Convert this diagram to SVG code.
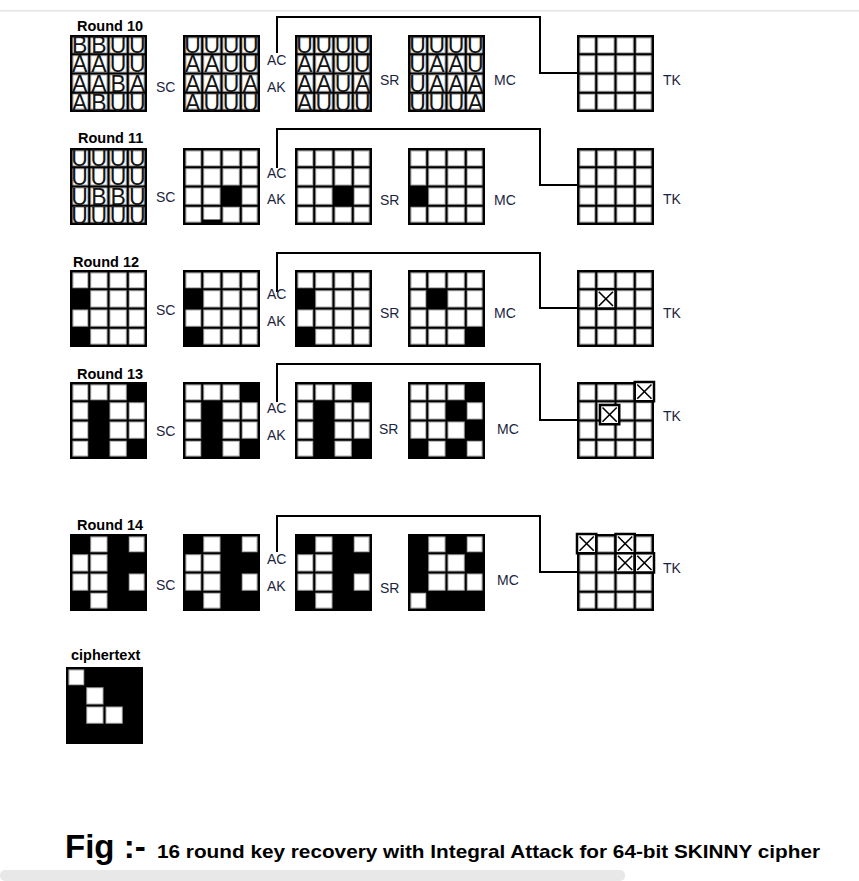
<svg xmlns="http://www.w3.org/2000/svg" xmlns:xlink="http://www.w3.org/1999/xlink" width="859" height="881" viewBox="0 0 859 881">
<style>
.lbl{font-family:"Liberation Sans",Arial,sans-serif;font-size:14px;fill:#1c2540}
.ttl{font-family:"Liberation Sans",Arial,sans-serif;font-size:14.5px;font-weight:bold;fill:#000}
.let{font-family:"Liberation Sans",Arial,sans-serif;font-size:23px;fill:#141414;text-anchor:middle}
.b{fill:#000}
.conn{fill:none;stroke:#000;stroke-width:2}
.cap{font-family:"Liberation Sans",Arial,sans-serif;font-weight:bold;fill:#000}
</style>
<defs>
<g id="grid">
<rect x="0" y="0" width="77" height="77" fill="#fff"/>
<path d="M19.25 0V77M38.5 0V77M57.75 0V77M0 19.25H77M0 38.5H77M0 57.75H77" stroke="#a8a8a8" stroke-width="4"/>
<rect x="3" y="3" width="71" height="71" fill="none" stroke="#a8a8a8" stroke-width="1"/>
<path d="M19.25 0V77M38.5 0V77M57.75 0V77M0 19.25H77M0 38.5H77M0 57.75H77" stroke="#000" stroke-width="2"/>
<rect x="1.25" y="1.25" width="74.5" height="74.5" fill="none" stroke="#000" stroke-width="2.5"/>
</g>
<g id="xc">
<rect x="0" y="0" width="19.25" height="19.25" fill="#fff" stroke="#000" stroke-width="2.5"/>
<path d="M2.5 2.5L16.75 16.75M16.75 2.5L2.5 16.75" stroke="#000" stroke-width="1.6"/>
</g>
</defs>
<rect width="859" height="881" fill="#fff"/>
<rect x="0" y="10" width="859" height="1.5" fill="#e3e3e3"/>
<rect x="0" y="870" width="625" height="11" rx="5" fill="#e8e8e8"/>

<g id="connectors">
<path class="conn" d="M277 53V17H540V73H577"/>
<path class="conn" d="M277 168V129H540V185H577"/>
<path class="conn" d="M277 292V253H540V308H577"/>
<path class="conn" d="M277 402V364H540V420H577"/>
<path class="conn" d="M277 552V516H540V572H577"/>
</g>

<!-- Round 10 -->
<g id="round10-labels">
<text class="ttl" x="77" y="31">Round 10</text>
<text class="lbl" x="156" y="92">SC</text>
<text class="lbl" x="267" y="65">AC</text>
<text class="lbl" x="267" y="92">AK</text>
<text class="lbl" x="380" y="85">SR</text>
<text class="lbl" x="494" y="85">MC</text>
<text class="lbl" x="663" y="85">TK</text>
</g>
<g id="r10-s1" transform="translate(70,35)"><use xlink:href="#grid"/>
<text class="let" x="9.6 28.9 48.1 67.4" y="18">BBUU</text>
<text class="let" x="9.6 28.9 48.1 67.4" y="37.25">AAUU</text>
<text class="let" x="9.6 28.9 48.1 67.4" y="56.5">AABA</text>
<text class="let" x="9.6 28.9 48.1 67.4" y="75.75">ABUU</text>
</g>
<g id="r10-s2" transform="translate(183,35)"><use xlink:href="#grid"/>
<text class="let" x="9.6 28.9 48.1 67.4" y="18">UUUU</text>
<text class="let" x="9.6 28.9 48.1 67.4" y="37.25">AAUU</text>
<text class="let" x="9.6 28.9 48.1 67.4" y="56.5">AAUA</text>
<text class="let" x="9.6 28.9 48.1 67.4" y="75.75">AUUU</text>
</g>
<g id="r10-s3" transform="translate(295,35)"><use xlink:href="#grid"/>
<text class="let" x="9.6 28.9 48.1 67.4" y="18">UUUU</text>
<text class="let" x="9.6 28.9 48.1 67.4" y="37.25">AAUU</text>
<text class="let" x="9.6 28.9 48.1 67.4" y="56.5">AAUA</text>
<text class="let" x="9.6 28.9 48.1 67.4" y="75.75">AUUU</text>
</g>
<g id="r10-s4" transform="translate(408,35)"><use xlink:href="#grid"/>
<text class="let" x="9.6 28.9 48.1 67.4" y="18">UUUU</text>
<text class="let" x="9.6 28.9 48.1 67.4" y="37.25">UAAU</text>
<text class="let" x="9.6 28.9 48.1 67.4" y="56.5">UAAA</text>
<text class="let" x="9.6 28.9 48.1 67.4" y="75.75">UUUA</text>
</g>
<g id="r10-tk" transform="translate(577,35)"><use xlink:href="#grid"/></g>

<!-- Round 11 -->
<g id="round11-labels">
<text class="ttl" x="78" y="143">Round 11</text>
<text class="lbl" x="156" y="202">SC</text>
<text class="lbl" x="267" y="178">AC</text>
<text class="lbl" x="267" y="204">AK</text>
<text class="lbl" x="380" y="205">SR</text>
<text class="lbl" x="494" y="205">MC</text>
<text class="lbl" x="663" y="204">TK</text>
</g>
<g id="r11-s1" transform="translate(70,148)"><use xlink:href="#grid"/>
<text class="let" x="9.6 28.9 48.1 67.4" y="18">UUUU</text>
<text class="let" x="9.6 28.9 48.1 67.4" y="37.25">UUUU</text>
<text class="let" x="9.6 28.9 48.1 67.4" y="56.5">UBBU</text>
<text class="let" x="9.6 28.9 48.1 67.4" y="75.75">UUUU</text>
</g>
<g id="r11-s2" transform="translate(183,148)"><use xlink:href="#grid"/>
<rect class="b" x="38.5" y="38.5" width="19.25" height="19.25"/>
<rect class="b" x="19.25" y="71.5" width="19.25" height="5.5"/>
</g>
<g id="r11-s3" transform="translate(295,148)"><use xlink:href="#grid"/>
<rect class="b" x="38.5" y="38.5" width="19.25" height="19.25"/>
</g>
<g id="r11-s4" transform="translate(408,148)"><use xlink:href="#grid"/>
<rect class="b" x="0" y="38.5" width="19.25" height="19.25"/>
</g>
<g id="r11-tk" transform="translate(577,148)"><use xlink:href="#grid"/></g>

<!-- Round 12 -->
<g id="round12-labels">
<text class="ttl" x="73" y="267">Round 12</text>
<text class="lbl" x="156" y="315">SC</text>
<text class="lbl" x="267" y="299">AC</text>
<text class="lbl" x="267" y="326">AK</text>
<text class="lbl" x="380" y="318">SR</text>
<text class="lbl" x="494" y="318">MC</text>
<text class="lbl" x="663" y="318">TK</text>
</g>
<g id="r12-s1" transform="translate(70,270)"><use xlink:href="#grid"/>
<rect class="b" x="0" y="19.25" width="19.25" height="19.25"/>
<rect class="b" x="0" y="57.75" width="19.25" height="19.25"/>
</g>
<g id="r12-s2" transform="translate(183,270)"><use xlink:href="#grid"/>
<rect class="b" x="0" y="19.25" width="19.25" height="19.25"/>
<rect class="b" x="0" y="57.75" width="19.25" height="19.25"/>
</g>
<g id="r12-s3" transform="translate(295,270)"><use xlink:href="#grid"/>
<rect class="b" x="0" y="19.25" width="19.25" height="19.25"/>
<rect class="b" x="0" y="57.75" width="19.25" height="19.25"/>
</g>
<g id="r12-s4" transform="translate(408,270)"><use xlink:href="#grid"/>
<rect class="b" x="19.25" y="19.25" width="19.25" height="19.25"/>
<rect class="b" x="57.75" y="57.75" width="19.25" height="19.25"/>
</g>
<g id="r12-tk" transform="translate(577,270)"><use xlink:href="#grid"/>
<use xlink:href="#xc" x="19.25" y="19.25"/>
</g>

<!-- Round 13 -->
<g id="round13-labels">
<text class="ttl" x="77" y="379">Round 13</text>
<text class="lbl" x="156" y="436">SC</text>
<text class="lbl" x="267" y="413">AC</text>
<text class="lbl" x="267" y="440">AK</text>
<text class="lbl" x="379" y="434">SR</text>
<text class="lbl" x="497" y="434">MC</text>
<text class="lbl" x="663" y="421">TK</text>
</g>
<g id="r13-s1" transform="translate(70,382)"><use xlink:href="#grid"/>
<rect class="b" x="57.75" y="0" width="19.25" height="19.25"/>
<rect class="b" x="19.25" y="19.25" width="19.25" height="57.75"/>
<rect class="b" x="57.75" y="57.75" width="19.25" height="19.25"/>
</g>
<g id="r13-s2" transform="translate(183,382)"><use xlink:href="#grid"/>
<rect class="b" x="57.75" y="0" width="19.25" height="19.25"/>
<rect class="b" x="19.25" y="19.25" width="19.25" height="57.75"/>
<rect class="b" x="57.75" y="57.75" width="19.25" height="19.25"/>
</g>
<g id="r13-s3" transform="translate(295,382)"><use xlink:href="#grid"/>
<rect class="b" x="57.75" y="0" width="19.25" height="19.25"/>
<rect class="b" x="19.25" y="19.25" width="19.25" height="57.75"/>
<rect class="b" x="57.75" y="57.75" width="19.25" height="19.25"/>
</g>
<g id="r13-s4" transform="translate(408,382)"><use xlink:href="#grid"/>
<rect class="b" x="57.75" y="0" width="19.25" height="19.25"/>
<rect class="b" x="38.5" y="19.25" width="19.25" height="19.25"/>
<rect class="b" x="57.75" y="38.5" width="19.25" height="19.25"/>
<rect class="b" x="0" y="57.75" width="19.25" height="19.25"/>
<rect class="b" x="38.5" y="57.75" width="19.25" height="19.25"/>
</g>
<g id="r13-tk" transform="translate(577,382)"><use xlink:href="#grid"/>
<use xlink:href="#xc" x="57.75" y="0"/>
<use xlink:href="#xc" x="23" y="23"/>
</g>

<!-- Round 14 -->
<g id="round14-labels">
<text class="ttl" x="77" y="530">Round 14</text>
<text class="lbl" x="156" y="590">SC</text>
<text class="lbl" x="267" y="564">AC</text>
<text class="lbl" x="267" y="591">AK</text>
<text class="lbl" x="380" y="593">SR</text>
<text class="lbl" x="497" y="585">MC</text>
<text class="lbl" x="663" y="573">TK</text>
</g>
<g id="r14-s1" transform="translate(70,534)"><use xlink:href="#grid"/>
<rect class="b" x="0" y="0" width="19.25" height="19.25"/>
<rect class="b" x="38.5" y="0" width="19.25" height="77"/>
<rect class="b" x="57.75" y="19.25" width="19.25" height="19.25"/>
<rect class="b" x="0" y="57.75" width="19.25" height="19.25"/>
<rect class="b" x="57.75" y="57.75" width="19.25" height="19.25"/>
</g>
<g id="r14-s2" transform="translate(183,534)"><use xlink:href="#grid"/>
<rect class="b" x="0" y="0" width="19.25" height="19.25"/>
<rect class="b" x="38.5" y="0" width="19.25" height="77"/>
<rect class="b" x="57.75" y="19.25" width="19.25" height="19.25"/>
<rect class="b" x="0" y="57.75" width="19.25" height="19.25"/>
<rect class="b" x="57.75" y="57.75" width="19.25" height="19.25"/>
</g>
<g id="r14-s3" transform="translate(295,534)"><use xlink:href="#grid"/>
<rect class="b" x="0" y="0" width="19.25" height="19.25"/>
<rect class="b" x="38.5" y="0" width="19.25" height="77"/>
<rect class="b" x="57.75" y="19.25" width="19.25" height="19.25"/>
<rect class="b" x="0" y="57.75" width="19.25" height="19.25"/>
<rect class="b" x="57.75" y="57.75" width="19.25" height="19.25"/>
</g>
<g id="r14-s4" transform="translate(408,534)"><use xlink:href="#grid"/>
<rect class="b" x="0" y="0" width="19.25" height="57.75"/>
<rect class="b" x="38.5" y="0" width="19.25" height="19.25"/>
<rect class="b" x="57.75" y="19.25" width="19.25" height="19.25"/>
<rect class="b" x="19.25" y="57.75" width="57.75" height="19.25"/>
</g>
<g id="r14-tk" transform="translate(577,534)"><use xlink:href="#grid"/>
<use xlink:href="#xc" x="0" y="0"/>
<use xlink:href="#xc" x="38.5" y="0"/>
<use xlink:href="#xc" x="38.5" y="19.25"/>
<use xlink:href="#xc" x="57.75" y="19.25"/>
</g>

<!-- Ciphertext -->
<text id="ciphertext-label" class="ttl" x="71" y="660">ciphertext</text>
<g id="ciphertext" transform="translate(66,667)"><use xlink:href="#grid"/>
<rect class="b" x="19.25" y="0" width="57.75" height="19.25"/>
<rect class="b" x="0" y="19.25" width="19.25" height="57.75"/>
<rect class="b" x="38.5" y="19.25" width="38.5" height="19.25"/>
<rect class="b" x="57.75" y="38.5" width="19.25" height="38.5"/>
<rect class="b" x="0" y="57.75" width="77" height="19.25"/>
</g>

<g id="caption">
<text class="cap" x="65" y="858" font-size="33">Fig :-</text>
<text class="cap" x="157" y="858" font-size="19" textLength="663" lengthAdjust="spacingAndGlyphs">16 round key recovery with Integral  Attack for 64-bit SKINNY cipher</text>
</g>
</svg>
